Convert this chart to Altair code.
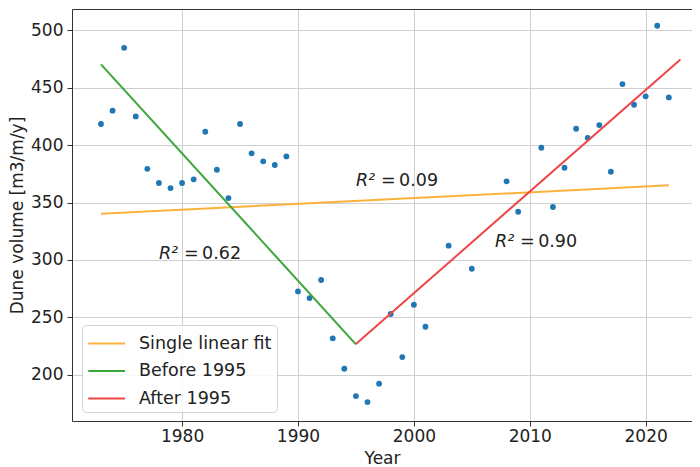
import altair as alt
import pandas as pd

# ---- data ----
years = [1973, 1974, 1975, 1976, 1977, 1978, 1979, 1980, 1981, 1982, 1983, 1984,
         1985, 1986, 1987, 1988, 1989, 1990, 1991, 1992, 1993, 1994, 1995, 1996,
         1997, 1998, 1999, 2000, 2001, 2003, 2005, 2008, 2009, 2011, 2012, 2013,
         2014, 2015, 2016, 2017, 2018, 2019, 2020, 2021, 2022]
volumes = [418.4, 430.0, 484.8, 425.0, 379.4, 367.0, 362.6, 367.0, 370.2, 411.7,
           378.6, 353.9, 418.4, 392.9, 385.9, 382.7, 390.2, 272.6, 266.8, 282.5,
           231.7, 205.2, 181.4, 176.2, 192.2, 252.9, 215.4, 261.0, 241.8, 312.4,
           292.3, 368.5, 342.0, 397.7, 346.1, 380.3, 414.3, 406.4, 417.5, 376.8,
           453.2, 435.2, 442.5, 504.0, 441.6]

fit_names = ["Single linear fit", "Before 1995", "After 1995"]
fit_colors = ["#fbb23c", "#3aa63a", "#f04545"]
single_fit_years = [1973, 2022]
single_fit_values = [340.2, 365.0]
before_fit_years = [1973, 1995]
before_fit_values = [470.4, 226.5]
after_fit_years = [1995, 2023]
after_fit_values = [226.7, 474.7]

ann_years = [1978, 1995, 2007]
ann_values = [301, 364, 311]
ann_r2 = ["0.62", "0.09", "0.90"]

x_ticks = [1980, 1990, 2000, 2010, 2020]
y_ticks = [200, 250, 300, 350, 400, 450, 500]

# ---- tables ----
scatter_df = pd.DataFrame({"Year": years, "Volume": volumes})
fit_df = pd.concat([
    pd.DataFrame({"Fit": fit_names[0], "Year": single_fit_years, "Volume": single_fit_values}),
    pd.DataFrame({"Fit": fit_names[1], "Year": before_fit_years, "Volume": before_fit_values}),
    pd.DataFrame({"Fit": fit_names[2], "Year": after_fit_years, "Volume": after_fit_values}),
], ignore_index=True)
ann_df = pd.DataFrame({
    "Year": ann_years,
    "Volume": ann_values,
    "R": ["R\u00b2"] * len(ann_years),
    "Val": ["=\u2009" + v for v in ann_r2],
})

FONT = "DejaVu Sans"
SPINE = "#333333"
x_scale = alt.Scale(domain=[1970.5, 2024.0], nice=False, zero=False)
y_scale = alt.Scale(domain=[159.7, 518.6], nice=False, zero=False)

x_bottom = alt.X("Year:Q", scale=x_scale,
                 axis=alt.Axis(orient="bottom", values=x_ticks, format="d", title="Year",
                               labelPadding=2, titlePadding=19,
                               titleBaseline="alphabetic",
                               domain=True, domainColor=SPINE, domainWidth=1))
x_top = alt.X("Year:Q", scale=x_scale,
              axis=alt.Axis(orient="top", labels=False, ticks=False, grid=False,
                            title=None, domain=True, domainColor=SPINE, domainWidth=1))
x_plain = alt.X("Year:Q", scale=x_scale, axis=None)
y_axis = alt.Axis(orient="left", values=y_ticks, format="d", title="Dune volume [m3/m/y]",
                  labelPadding=4, titlePadding=4,
                  domain=True, domainColor=SPINE, domainWidth=1)


def y_left():
    return alt.Y("Volume:Q", scale=y_scale, axis=y_axis)


points = alt.Chart(scatter_df).mark_circle(size=34, color="#1f77b4", opacity=1).encode(
    x=x_bottom, y=y_left()
)

lines = alt.Chart(fit_df).mark_line(strokeWidth=2).encode(
    x=x_plain,
    y=y_left(),
    color=alt.Color(
        "Fit:N",
        scale=alt.Scale(domain=fit_names, range=fit_colors),
        sort=fit_names,
        legend=alt.Legend(
            title=None, orient="none", legendX=10, legendY=316,
            symbolType="M-1.0,0H2.0", symbolSize=600, symbolStrokeWidth=2,
            labelFont=FONT, labelFontSize=17.5, labelColor="#222",
            labelOffset=25, rowPadding=5.5, padding=5,
            fillColor="rgba(255,255,255,0.85)", strokeColor="#d4d4d4",
            cornerRadius=4,
        ),
    ),
    detail="Fit:N",
)

r_text = alt.Chart(ann_df).mark_text(
    font=FONT, fontStyle="italic", fontSize=17.5, align="left",
    baseline="alphabetic", color="#222"
).encode(x=x_top, y=y_left(), text="R:N")

v_text = alt.Chart(ann_df).mark_text(
    font=FONT, fontSize=17.5, align="left", baseline="alphabetic",
    color="#222", dx=25
).encode(x=x_plain, y=y_left(), text="Val:N")

chart = alt.layer(points, lines, r_text, v_text).properties(
    width=620, height=412,
    padding={"left": 64, "top": 1, "right": 0, "bottom": 46},
    autosize=alt.AutoSizeParams(type="none"),
    background="white",
).configure_view(
    stroke=None
).configure_axis(
    grid=True, gridColor="#cfcfcf", gridWidth=1,
    domain=False, tickColor=SPINE, tickSize=5, tickWidth=1,
    labelFont=FONT, labelFontSize=17, labelColor="#222",
    titleFont=FONT, titleFontSize=17, titleFontWeight="normal", titleColor="#222",
)

chart.save("out.html", embed_options={"renderer": "svg", "actions": False})
